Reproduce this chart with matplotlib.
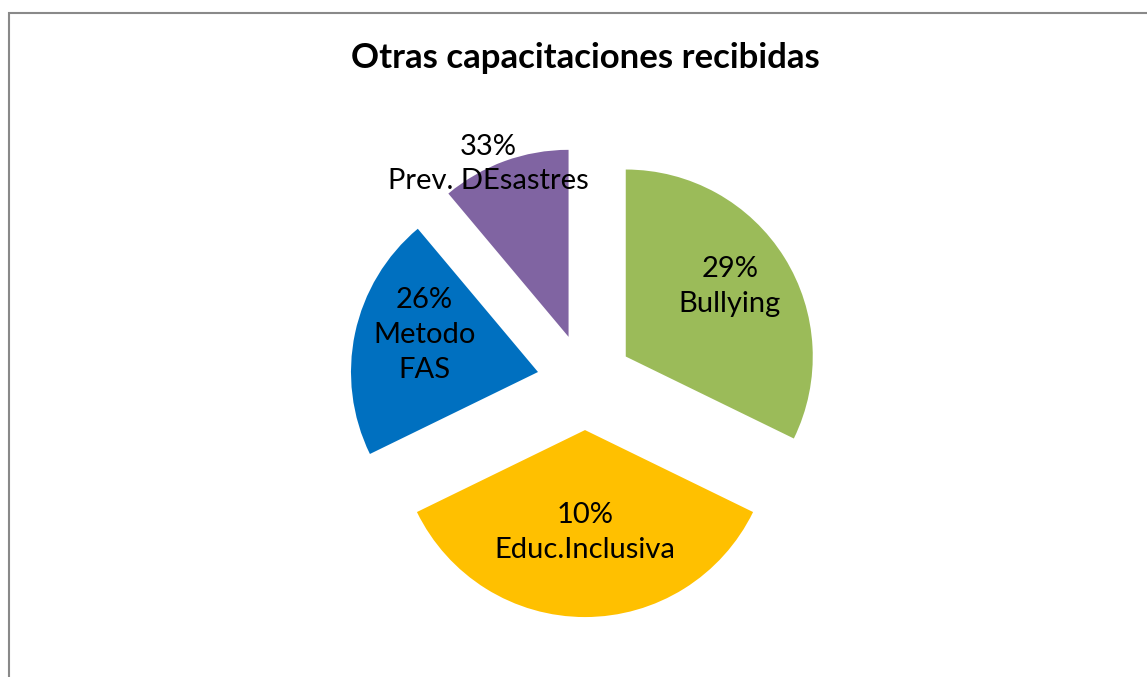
import numpy as np
import matplotlib.pyplot as plt
from matplotlib.patches import Rectangle

plt.rcParams['font.family'] = ['Lato', 'DejaVu Sans']

categories = ["Bullying", "Educ.Inclusiva", "Metodo\nFAS", "Prev. DEsastres"]
values = [29, 32, 19, 10]
shown_pct = ["29%", "10%", "26%", "33%"]
colors = ["#9BBB59", "#FFC000", "#0070C0", "#8064A2"]

# label distance from each exploded wedge's apex, and angle tweak (deg)
label_dist = [0.67, 0.55, 0.64, 1.02]
label_dang = [2, 0, -6, 5]

W, H = 1147, 677
fig = plt.figure(figsize=(W / 100, H / 100), dpi=100)
ax = fig.add_axes([0, 0, 1, 1])

r_px = 187.0
cx, cy = 585, 382

wedges, _ = ax.pie(values, colors=colors, startangle=90, counterclock=False,
                   explode=[0.257] * 4, radius=1.0, frame=True,
                   wedgeprops=dict(linewidth=0))
ax.set_xlim(-cx / r_px, (W - cx) / r_px)
ax.set_ylim(-(H - cy) / r_px, cy / r_px)
ax.set_aspect("auto")
ax.axis("off")

for i, w in enumerate(wedges):
    mid = np.deg2rad((w.theta1 + w.theta2) / 2 + label_dang[i])
    x0, y0 = w.center
    tx = x0 + label_dist[i] * np.cos(mid)
    ty = y0 + label_dist[i] * np.sin(mid)
    ax.text(tx, ty, shown_pct[i] + "\n" + categories[i], ha="center", va="center",
            fontsize=21, color="black", linespacing=1.42)

fig.text(cx / W, 1 - 58 / H, "Otras capacitaciones recibidas", ha="center", va="center",
         fontsize=25, fontweight="bold", color="black")

# chart area border (right and bottom fall outside the image)
fig.patches.append(Rectangle((9 / W, -0.1), 1.2, (H - 13) / H + 0.1,
                             transform=fig.transFigure, fill=False,
                             edgecolor="#898989", linewidth=1.5))

fig.savefig("out.png", dpi=100)
